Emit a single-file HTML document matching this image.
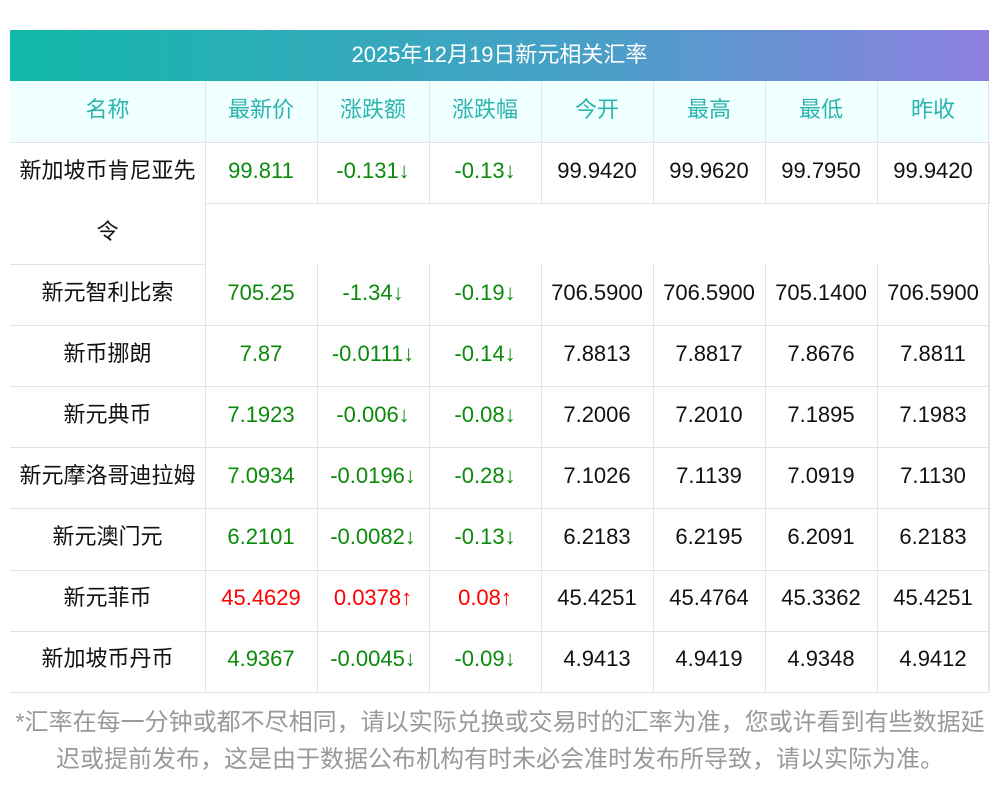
<!DOCTYPE html><html><head><meta charset="utf-8"><style>
body{margin:0;width:1000px;height:793px;background:#fff;font-family:"Liberation Sans","Noto Sans CJK SC",sans-serif;position:relative;overflow:hidden}
.t{position:absolute;left:10px;top:30px;width:979px;height:51px;background:linear-gradient(90deg,#12b8aa,#4a9fc8 60%,#8e80e0);color:#fff;font-size:22px;line-height:49px;text-align:center}
.c{position:absolute;display:flex;align-items:center;justify-content:center;font-size:22px;line-height:1;box-sizing:border-box;color:#111;text-align:center}
.c span{display:block;line-height:22px;margin-top:-4px}
.h{color:#2cb5ad;background:#f0ffff}
.g{color:#0a8a0a}.r{color:#f00}
.l{position:absolute;background:#e2e2ea}
.f{position:absolute;left:0;width:1000px;text-align:center;color:#999;font-size:24px;line-height:28px;white-space:nowrap}
</style></head><body>
<div class="t">2025年12月19日新元相关汇率</div>
<div id="tb"></div>
<div class="f" style="top:709px">*汇率在每一分钟或都不尽相同，请以实际兑换或交易时的汇率为准，您或许看到有些数据延</div>
<div class="f" style="top:746px">迟或提前发布，这是由于数据公布机构有时未必会准时发布所导致，请以实际为准。</div>
<script>
const xs=[10,205,317,429,541,653,765,877,989];
const heads=["名称","最新价","涨跌额","涨跌幅","今开","最高","最低","昨收"];
const rows=[
["新元智利比索","705.25","-1.34↓","-0.19↓","706.5900","706.5900","705.1400","706.5900"],
["新币挪朗","7.87","-0.0111↓","-0.14↓","7.8813","7.8817","7.8676","7.8811"],
["新元典币","7.1923","-0.006↓","-0.08↓","7.2006","7.2010","7.1895","7.1983"],
["新元摩洛哥迪拉姆","7.0934","-0.0196↓","-0.28↓","7.1026","7.1139","7.0919","7.1130"],
["新元澳门元","6.2101","-0.0082↓","-0.13↓","6.2183","6.2195","6.2091","6.2183"],
["新元菲币","45.4629","0.0378↑","0.08↑","45.4251","45.4764","45.3362","45.4251"],
["新加坡币丹币","4.9367","-0.0045↓","-0.09↓","4.9413","4.9419","4.9348","4.9412"]];
let h="";
function cell(x0,x1,y0,y1,txt,cls){h+=`<div class="c ${cls}" style="left:${x0}px;top:${y0}px;width:${x1-x0}px;height:${y1-y0}px"><span>${txt}</span></div>`}
function line(x,y,w,hh){h+=`<div class="l" style="left:${x}px;top:${y}px;width:${w}px;height:${hh}px"></div>`}
for(let i=0;i<8;i++)cell(xs[i],xs[i+1],81,142,heads[i],"h");
line(10,142,979,1);
const r1=["","99.811","-0.131↓","-0.13↓","99.9420","99.9620","99.7950","99.9420"];
for(let i=1;i<8;i++)cell(xs[i],xs[i+1],142,203,r1[i],i<4?"g":"");
h+=`<div class="c" style="left:10px;top:142px;width:195px;height:61px"><span>新加坡币肯尼亚先</span></div>`;
h+=`<div class="c" style="left:10px;top:203px;width:195px;height:61px"><span>令</span></div>`;
line(205,203,784,1);
for(let i=2;i<9;i++)line(xs[i],142,1,61);
line(205,81,1,610);
for(let i=2;i<8;i++)line(xs[i],81,1,61);
line(10,264,195,1);
line(988,81,1,610);
rows.forEach((r,k)=>{const y0=264+k*61.1,y1=y0+61.1;
 for(let i=0;i<8;i++){let cls=i==0?"":(i<4?(r[2].includes("↑")?"r":"g"):"");cell(xs[i],xs[i+1],y0,y1,r[i],cls);}
 for(let i=2;i<9;i++)line(xs[i],y0,1,61);
 line(10,Math.round(y1),979,1);});
document.getElementById("tb").innerHTML=h;
</script></body></html>
